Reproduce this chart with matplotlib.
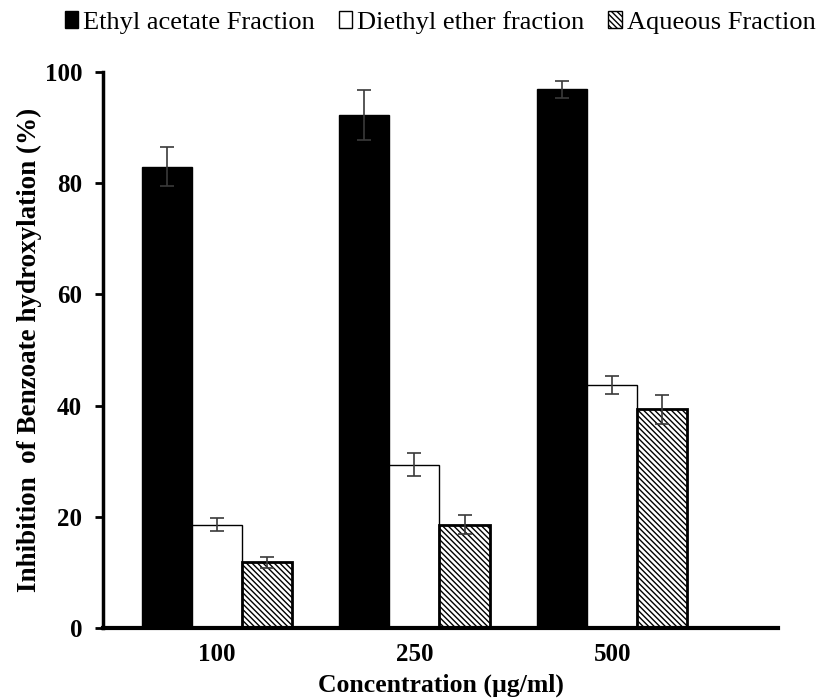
import matplotlib
matplotlib.use('Agg')
from matplotlib import pyplot as plt
from matplotlib.patches import Patch
import numpy as np

plt.rcParams['font.family'] = 'Liberation Serif'
plt.rcParams['hatch.linewidth'] = 1.0

# data
concentrations = ['100', '250', '500']
ethyl_acetate = [83.0, 92.3, 96.9]
ethyl_acetate_err = [3.5, 4.5, 1.5]
diethyl_ether = [18.6, 29.4, 43.7]
diethyl_ether_err = [1.2, 2.0, 1.7]
aqueous = [11.8, 18.6, 39.3]
aqueous_err = [1.0, 1.7, 2.6]

x = np.arange(len(concentrations))
width = 0.253

fig = plt.figure(figsize=(8.2, 7), dpi=100)
ax = fig.add_axes([0.1256, 0.1029, 0.8234, 0.7942])

err_kw = {'ecolor': '#3a3a3a', 'elinewidth': 1.2, 'capsize': 4.7, 'capthick': 1.2}
ax.bar(x - width, ethyl_acetate, width, yerr=ethyl_acetate_err, color='black',
       edgecolor='black', linewidth=1, error_kw=err_kw)
ax.bar(x, diethyl_ether, width, yerr=diethyl_ether_err, color='white',
       edgecolor='black', linewidth=1, error_kw=err_kw)
ax.bar(x + width, aqueous, width, yerr=aqueous_err, color='white',
       edgecolor='black', linewidth=2, hatch='\\\\\\\\\\\\', error_kw=err_kw)

ax.set_ylim(0, 100)
ax.set_xlim(-0.576, 2.84)
ax.set_yticks([0, 20, 40, 60, 80, 100])
ax.set_xticks(x)
ax.set_xticklabels(concentrations)
ax.tick_params(axis='y', direction='out', length=6, width=2, labelsize=18, pad=9)
ax.tick_params(axis='x', length=0, labelsize=18, pad=11)
for lbl in ax.get_xticklabels() + ax.get_yticklabels():
    lbl.set_fontweight('bold')

ax.spines['top'].set_visible(False)
ax.spines['right'].set_visible(False)
ax.spines['left'].set_linewidth(2.5)
ax.spines['bottom'].set_linewidth(3)

ax.set_xlabel('Concentration (µg/ml)', fontsize=18.5, fontweight='bold', labelpad=5)
ax.set_ylabel('Inhibition  of Benzoate hydroxylation (%)', fontsize=19.5, fontweight='bold', labelpad=2)

handles = [Patch(facecolor='black', edgecolor='black'),
           Patch(facecolor='white', edgecolor='black'),
           Patch(facecolor='white', edgecolor='black', hatch='\\\\\\\\\\\\')]
fig.legend(handles, ['Ethyl acetate Fraction', 'Diethyl ether fraction', 'Aqueous Fraction'],
           loc='center', bbox_to_anchor=(0.537, 0.968), ncol=3, frameon=False,
           fontsize=19, handlelength=0.5, handleheight=0.65, handletextpad=0.2,
           columnspacing=0.9, borderpad=0)

fig.savefig('out.png', dpi=100)
